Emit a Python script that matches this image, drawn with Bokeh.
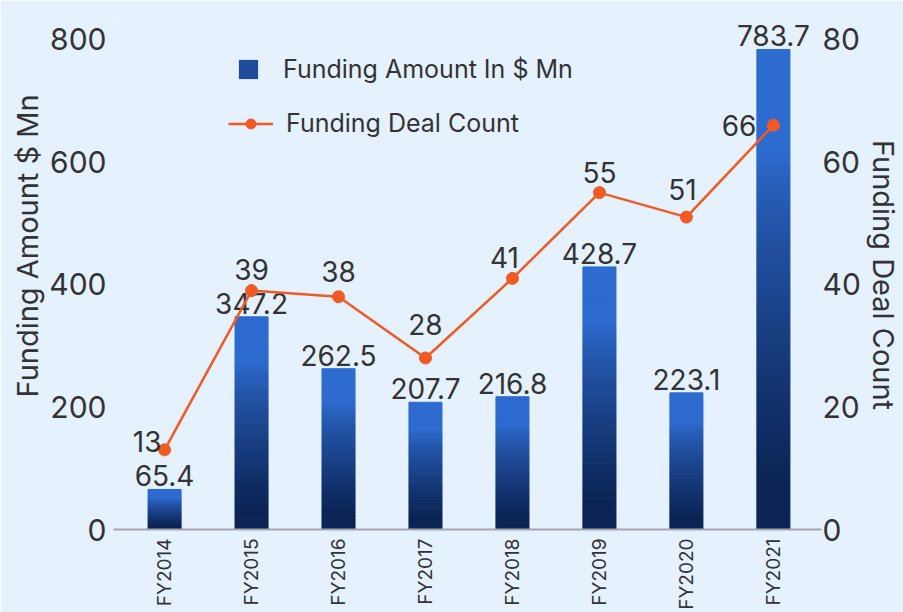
import numpy as np
from bokeh.plotting import figure
from bokeh.models import (Range1d, LinearAxis, FixedTicker, ColumnDataSource,
                          Legend, LegendItem, Title)
from bokeh.core.properties import value
from bokeh.embed import file_html
from bokeh.resources import INLINE

# ---- data ----
years = ["FY2014", "FY2015", "FY2016", "FY2017", "FY2018", "FY2019", "FY2020", "FY2021"]
amount = [65.4, 347.2, 262.5, 207.7, 216.8, 428.7, 223.1, 783.7]
deals = [13, 39, 38, 28, 41, 55, 51, 66]
left_ticks = [0, 200, 400, 600, 800]
right_ticks = [0, 20, 40, 60, 80]

# ---- styles ----
FONT = "Inter"
BG = "#e5f1fd"
TXT = "#333333"
ORANGE = "#f15a22"
BRIGHT = np.array([0x2e, 0x6b, 0xcf])
DARK = np.array([0x0b, 0x24, 0x55])
deal_label_dx = [-3, 0, 0, 0, -8, 0, -4, -17]
deal_label_dy = [2, -11, -15, -23, -10, -10, -17, 0]
deal_label_align = ["right", "center", "center", "center", "center", "center", "center", "right"]
deal_label_base = ["bottom", "bottom", "bottom", "bottom", "bottom", "bottom", "bottom", "middle"]

xs = np.arange(len(years))

p = figure(width=903, height=612, output_backend="svg", toolbar_location=None,
           x_range=Range1d(-0.587, 7.553), y_range=Range1d(0, 831),
           min_border_left=113, min_border_right=40, min_border_top=20, min_border_bottom=40)
p.extra_y_ranges = {"right": Range1d(0, 83.1)}
p.background_fill_color = BG
p.border_fill_color = BG
p.outline_line_color = None
p.grid.visible = False

# ---- bars with vertical gradient (slices) ----
N = 60
W = 0.38
lefts, rights, bottoms, tops, colors = [], [], [], [], []
for x, v in zip(xs, amount):
    for k in range(N):
        b = v * k / N
        t = v * (k + 1) / N
        s = 1 - (k + 0.5) / N  # fraction from top
        if s < 0.22:
            f = 0.0
        elif s > 0.9:
            f = 1.0
        else:
            f = (s - 0.22) / 0.68
        f = f ** 0.75
        c = BRIGHT * (1 - f) + DARK * f
        lefts.append(x - W / 2)
        rights.append(x + W / 2)
        bottoms.append(b)
        tops.append(t)
        colors.append("#%02x%02x%02x" % tuple(int(round(q)) for q in c))
p.quad(left=lefts, right=rights, bottom=bottoms, top=tops, fill_color=colors,
       line_color=colors, line_width=1)

# ---- bar labels ----
p.text(x=xs, y=amount, text=[f"{a:g}" for a in amount], text_align="center",
       text_baseline="bottom", y_offset=-3, text_font=value(FONT),
       text_font_size="28px", text_color=TXT)

# ---- line ----
ln = p.line(xs, deals, y_range_name="right", line_color=ORANGE, line_width=2.5)
pts = p.scatter(xs, deals, y_range_name="right", size=12, fill_color=ORANGE, line_color=ORANGE)
src = ColumnDataSource(dict(x=xs, y=deals, t=[str(d) for d in deals], dx=deal_label_dx,
                            dy=deal_label_dy, al=deal_label_align, bl=deal_label_base))
p.text(x="x", y="y", text="t", source=src, y_range_name="right", x_offset="dx", y_offset="dy",
       text_align="al", text_baseline="bl", text_font=value(FONT), text_font_size="28px",
       text_color=TXT)

# ---- legends ----
sq = p.vbar(x=[np.nan], top=[np.nan], width=0.1, fill_color="#1e4c9a", line_color=None)
common = dict(background_fill_alpha=0, border_line_color=None, label_text_font=FONT,
              label_text_font_size="25px", label_text_color=TXT, padding=0, margin=0)
leg1 = Legend(items=[LegendItem(label="Funding Amount In $ Mn", renderers=[sq])],
              location=(123, 445), glyph_width=24, glyph_height=24, label_height=24,
              label_standoff=23, **common)
leg2 = Legend(items=[LegendItem(label="Funding Deal Count", renderers=[ln, pts])],
              location=(115, 391), glyph_width=45, glyph_height=25, label_height=25,
              label_standoff=13, **common)
p.add_layout(leg1, "center")
p.add_layout(leg2, "center")

# ---- axes ----
yl = p.yaxis[0]
yl.ticker = FixedTicker(ticks=left_ticks)
yr = LinearAxis(y_range_name="right", ticker=FixedTicker(ticks=right_ticks),
                axis_label="Funding Deal Count")
p.add_layout(yr, "right")
for ax in (yl, yr):
    ax.axis_line_color = None
    ax.major_tick_line_color = None
    ax.minor_tick_line_color = None
    ax.major_tick_out = 0
    ax.major_tick_in = 0
    ax.minor_tick_out = 0
    ax.major_label_text_font = FONT
    ax.major_label_text_font_size = "30px"
    ax.major_label_text_color = TXT
yl.major_label_standoff = 7
yr.major_label_standoff = 1
yr.axis_label_text_font = FONT
yr.axis_label_text_font_size = "29px"
yr.axis_label_text_font_style = "normal"
yr.axis_label_text_color = TXT
yr.axis_label_standoff = 2

left_title = Title(text="Funding Amount $ Mn", align="left", offset=132, standoff=4,
                   text_font=FONT, text_font_size="29px", text_font_style="normal",
                   text_color=TXT)
p.add_layout(left_title, "left")

xa = p.xaxis[0]
xa.ticker = FixedTicker(ticks=list(xs))
xa.major_label_overrides = {int(i): y for i, y in zip(xs, years)}
xa.major_label_orientation = np.pi / 2
xa.axis_line_color = "#a3a6aa"
xa.axis_line_width = 2
xa.major_tick_line_color = None
xa.minor_tick_line_color = None
xa.major_tick_out = 0
xa.major_tick_in = 0
xa.minor_tick_out = 0
xa.major_label_text_font = FONT
xa.major_label_text_font_size = "19px"
xa.major_label_text_color = TXT
xa.major_label_standoff = 9

open("out.html", "w").write(file_html(p, INLINE))
